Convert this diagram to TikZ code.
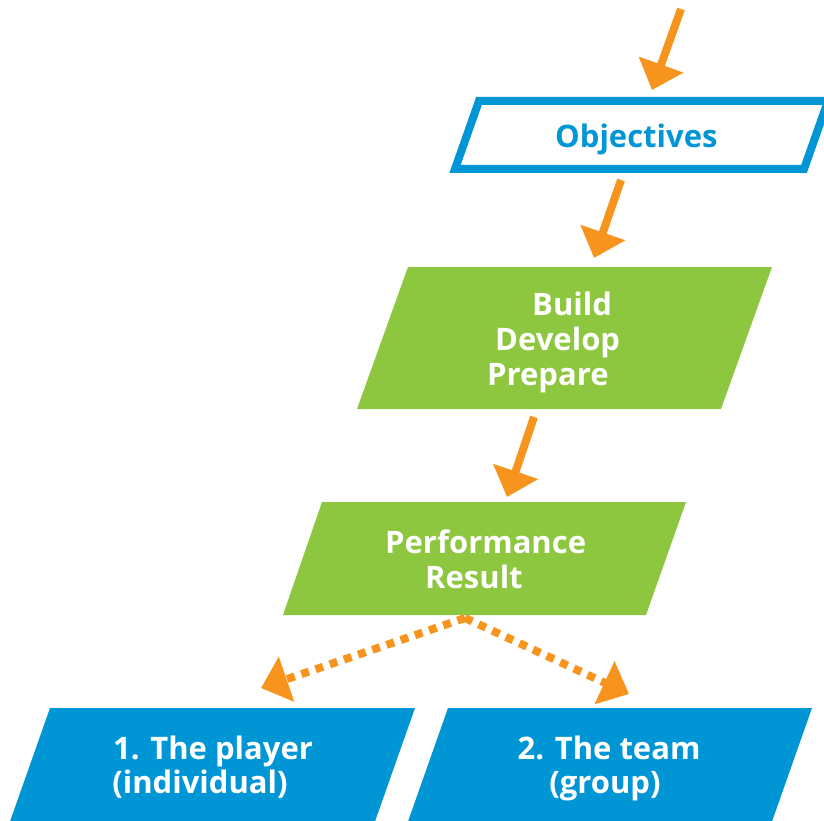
\documentclass[tikz,border=0pt]{standalone}
\usepackage{fontspec}
\setmainfont{Open Sans}
\usetikzlibrary{arrows.meta}
\definecolor{cblue}{RGB}{0,150,214}
\definecolor{cgreen}{RGB}{141,198,63}
\definecolor{corange}{RGB}{247,148,29}
\tikzset{
  lbl/.style={inner sep=0pt, font=\fontsize{31}{35}\selectfont\bfseries},
  flowarrow/.style={draw=corange, line width=8pt, -{Triangle[width=46pt,length=27pt]}, corange},
  dotarrow/.style={flowarrow, dash pattern=on 8pt off 7pt},
}
\begin{document}
\begin{tikzpicture}[x=1pt,y=-1pt]
\useasboundingbox (0,0) rectangle (824,821);
\clip (0,0) rectangle (824,821);
% shapes
\draw[cblue, line width=8pt, line join=miter] (479,101) -- (828,101) -- (804,169) -- (455,169) -- cycle;
\fill[cgreen] (408,267) -- (772,267) -- (721,409) -- (357,409) -- cycle;
\fill[cgreen] (322,502) -- (686,502) -- (646,615) -- (283,615) -- cycle;
\fill[cblue] (50,708) -- (415,708) -- (372,830) -- (7,830) -- cycle;
\fill[cblue] (448,708) -- (812,708) -- (769,830) -- (405,830) -- cycle;
% texts
\node[lbl, text=cblue, anchor=base west] (obj) at (555,148) {Objectives};
\node[lbl, text=white, anchor=base west] (build) at (532,315) {Build};
\node[lbl, text=white, anchor=base west] (develop) at (495,350) {Develop};
\node[lbl, text=white, anchor=base west] (prepare) at (487,385) {Prepare};
\node[lbl, text=white, anchor=base west] (perf) at (385,553) {Performance};
\node[lbl, text=white, anchor=base west] (result) at (425,588) {Result};
\node[lbl, text=white, anchor=base] (player) at (213,759) {1. The player};
\node[lbl, text=white, anchor=base] (indiv) at (200,793) {(individual)};
\node[lbl, text=white, anchor=base] (team) at (609,759) {2. The team};
\node[lbl, text=white, anchor=base] (group) at (605,793) {(group)};
% arrow endpoints
\coordinate (a1s) at (681,9);
\coordinate (a1e) at (652,90);
\coordinate (a2s) at (621,180);
\coordinate (a2e) at (594,258);
\coordinate (a3s) at (534,417);
\coordinate (a3e) at (507,497);
\coordinate (ds) at (465,618);
\coordinate (dl) at (261,688);
\coordinate (dr) at (629,694);
% connectors
\draw[flowarrow] (a1s) -- (a1e);
\draw[flowarrow] (a2s) -- (a2e);
\draw[flowarrow] (a3s) -- (a3e);
\draw[dotarrow] (ds) -- (dl);
\draw[dotarrow] (ds) -- (dr);
\end{tikzpicture}
\end{document}
